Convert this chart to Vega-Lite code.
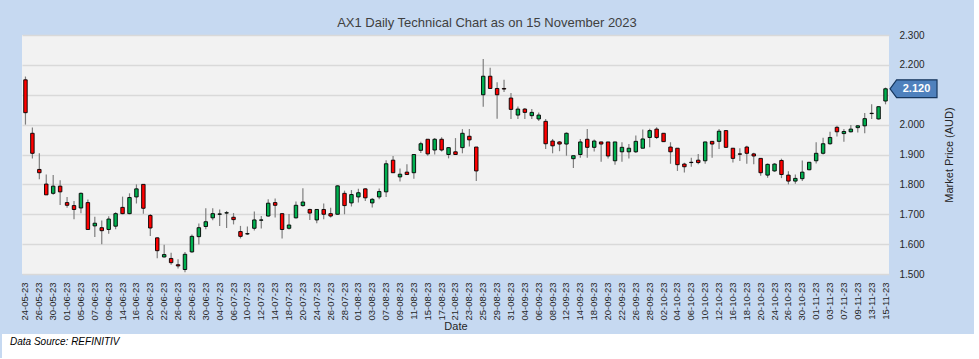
{
  "$schema": "https://vega.github.io/schema/vega-lite/v6.json",
  "padding": {"left": 2, "top": 17, "right": 0, "bottom": 0},
  "autosize": {"type": "pad"},
  "background": "#C6D9F1",
  "spacing": 2,
  "center": true,
  "datasets": {
    "ohlc": [
      {"d": "24-05-23", "o": 2.150, "h": 2.161, "l": 2.000, "c": 2.040},
      {"d": "25-05-23", "o": 1.971, "h": 1.990, "l": 1.887, "c": 1.904},
      {"d": "26-05-23", "o": 1.850, "h": 1.904, "l": 1.817, "c": 1.839},
      {"d": "29-05-23", "o": 1.801, "h": 1.833, "l": 1.765, "c": 1.765},
      {"d": "30-05-23", "o": 1.770, "h": 1.831, "l": 1.765, "c": 1.794},
      {"d": "31-05-23", "o": 1.794, "h": 1.814, "l": 1.731, "c": 1.775},
      {"d": "01-06-23", "o": 1.739, "h": 1.758, "l": 1.722, "c": 1.730},
      {"d": "02-06-23", "o": 1.729, "h": 1.744, "l": 1.683, "c": 1.716},
      {"d": "05-06-23", "o": 1.721, "h": 1.773, "l": 1.703, "c": 1.770},
      {"d": "06-06-23", "o": 1.739, "h": 1.749, "l": 1.649, "c": 1.649},
      {"d": "07-06-23", "o": 1.661, "h": 1.692, "l": 1.624, "c": 1.670},
      {"d": "08-06-23", "o": 1.655, "h": 1.679, "l": 1.600, "c": 1.645},
      {"d": "09-06-23", "o": 1.649, "h": 1.693, "l": 1.635, "c": 1.684},
      {"d": "13-06-23", "o": 1.660, "h": 1.707, "l": 1.650, "c": 1.702},
      {"d": "14-06-23", "o": 1.723, "h": 1.759, "l": 1.700, "c": 1.702},
      {"d": "15-06-23", "o": 1.702, "h": 1.770, "l": 1.700, "c": 1.756},
      {"d": "16-06-23", "o": 1.758, "h": 1.800, "l": 1.736, "c": 1.785},
      {"d": "19-06-23", "o": 1.800, "h": 1.800, "l": 1.702, "c": 1.720},
      {"d": "20-06-23", "o": 1.696, "h": 1.701, "l": 1.627, "c": 1.654},
      {"d": "21-06-23", "o": 1.621, "h": 1.623, "l": 1.553, "c": 1.578},
      {"d": "22-06-23", "o": 1.557, "h": 1.598, "l": 1.555, "c": 1.565},
      {"d": "23-06-23", "o": 1.552, "h": 1.571, "l": 1.531, "c": 1.538},
      {"d": "26-06-23", "o": 1.531, "h": 1.549, "l": 1.518, "c": 1.527},
      {"d": "27-06-23", "o": 1.515, "h": 1.574, "l": 1.506, "c": 1.566},
      {"d": "28-06-23", "o": 1.574, "h": 1.632, "l": 1.571, "c": 1.626},
      {"d": "29-06-23", "o": 1.625, "h": 1.669, "l": 1.599, "c": 1.655},
      {"d": "30-06-23", "o": 1.659, "h": 1.720, "l": 1.650, "c": 1.675},
      {"d": "03-07-23", "o": 1.688, "h": 1.720, "l": 1.680, "c": 1.702},
      {"d": "04-07-23", "o": 1.700, "h": 1.716, "l": 1.661, "c": 1.701},
      {"d": "05-07-23", "o": 1.704, "h": 1.711, "l": 1.654, "c": 1.705},
      {"d": "06-07-23", "o": 1.690, "h": 1.704, "l": 1.666, "c": 1.682},
      {"d": "07-07-23", "o": 1.642, "h": 1.661, "l": 1.619, "c": 1.626},
      {"d": "10-07-23", "o": 1.634, "h": 1.659, "l": 1.631, "c": 1.635},
      {"d": "11-07-23", "o": 1.653, "h": 1.709, "l": 1.646, "c": 1.681},
      {"d": "12-07-23", "o": 1.680, "h": 1.694, "l": 1.652, "c": 1.681},
      {"d": "13-07-23", "o": 1.694, "h": 1.750, "l": 1.692, "c": 1.737},
      {"d": "14-07-23", "o": 1.739, "h": 1.753, "l": 1.689, "c": 1.730},
      {"d": "17-07-23", "o": 1.702, "h": 1.702, "l": 1.619, "c": 1.649},
      {"d": "18-07-23", "o": 1.653, "h": 1.701, "l": 1.649, "c": 1.664},
      {"d": "19-07-23", "o": 1.688, "h": 1.743, "l": 1.686, "c": 1.730},
      {"d": "20-07-23", "o": 1.729, "h": 1.787, "l": 1.725, "c": 1.741},
      {"d": "21-07-23", "o": 1.716, "h": 1.718, "l": 1.681, "c": 1.704},
      {"d": "24-07-23", "o": 1.681, "h": 1.716, "l": 1.670, "c": 1.716},
      {"d": "25-07-23", "o": 1.716, "h": 1.736, "l": 1.683, "c": 1.700},
      {"d": "26-07-23", "o": 1.702, "h": 1.722, "l": 1.689, "c": 1.694},
      {"d": "27-07-23", "o": 1.700, "h": 1.797, "l": 1.698, "c": 1.795},
      {"d": "28-07-23", "o": 1.770, "h": 1.779, "l": 1.700, "c": 1.729},
      {"d": "31-07-23", "o": 1.738, "h": 1.781, "l": 1.726, "c": 1.766},
      {"d": "01-08-23", "o": 1.758, "h": 1.785, "l": 1.739, "c": 1.772},
      {"d": "02-08-23", "o": 1.785, "h": 1.787, "l": 1.744, "c": 1.755},
      {"d": "03-08-23", "o": 1.738, "h": 1.754, "l": 1.723, "c": 1.750},
      {"d": "04-08-23", "o": 1.758, "h": 1.786, "l": 1.750, "c": 1.776},
      {"d": "07-08-23", "o": 1.775, "h": 1.881, "l": 1.758, "c": 1.869},
      {"d": "08-08-23", "o": 1.881, "h": 1.895, "l": 1.838, "c": 1.839},
      {"d": "09-08-23", "o": 1.825, "h": 1.853, "l": 1.810, "c": 1.834},
      {"d": "10-08-23", "o": 1.841, "h": 1.867, "l": 1.832, "c": 1.833},
      {"d": "11-08-23", "o": 1.839, "h": 1.900, "l": 1.819, "c": 1.900},
      {"d": "14-08-23", "o": 1.914, "h": 1.943, "l": 1.905, "c": 1.936},
      {"d": "15-08-23", "o": 1.951, "h": 1.951, "l": 1.896, "c": 1.902},
      {"d": "16-08-23", "o": 1.915, "h": 1.955, "l": 1.900, "c": 1.951},
      {"d": "17-08-23", "o": 1.951, "h": 1.958, "l": 1.910, "c": 1.915},
      {"d": "18-08-23", "o": 1.900, "h": 1.925, "l": 1.887, "c": 1.923},
      {"d": "21-08-23", "o": 1.909, "h": 1.955, "l": 1.899, "c": 1.900},
      {"d": "22-08-23", "o": 1.923, "h": 1.985, "l": 1.904, "c": 1.971},
      {"d": "23-08-23", "o": 1.961, "h": 1.985, "l": 1.927, "c": 1.949},
      {"d": "24-08-23", "o": 1.925, "h": 1.925, "l": 1.811, "c": 1.845},
      {"d": "25-08-23", "o": 2.100, "h": 2.220, "l": 2.060, "c": 2.162},
      {"d": "28-08-23", "o": 2.162, "h": 2.190, "l": 2.120, "c": 2.121},
      {"d": "29-08-23", "o": 2.121, "h": 2.142, "l": 2.020, "c": 2.100},
      {"d": "30-08-23", "o": 2.121, "h": 2.150, "l": 2.109, "c": 2.119},
      {"d": "31-08-23", "o": 2.089, "h": 2.106, "l": 2.019, "c": 2.051},
      {"d": "01-09-23", "o": 2.032, "h": 2.061, "l": 2.019, "c": 2.052},
      {"d": "04-09-23", "o": 2.052, "h": 2.056, "l": 2.019, "c": 2.041},
      {"d": "05-09-23", "o": 2.030, "h": 2.052, "l": 2.019, "c": 2.041},
      {"d": "06-09-23", "o": 2.019, "h": 2.041, "l": 2.012, "c": 2.032},
      {"d": "07-09-23", "o": 2.011, "h": 2.019, "l": 1.918, "c": 1.936},
      {"d": "08-09-23", "o": 1.945, "h": 1.952, "l": 1.904, "c": 1.929},
      {"d": "11-09-23", "o": 1.942, "h": 1.945, "l": 1.911, "c": 1.935},
      {"d": "12-09-23", "o": 1.935, "h": 1.974, "l": 1.896, "c": 1.971},
      {"d": "13-09-23", "o": 1.886, "h": 1.897, "l": 1.855, "c": 1.896},
      {"d": "14-09-23", "o": 1.900, "h": 1.952, "l": 1.889, "c": 1.942},
      {"d": "15-09-23", "o": 1.951, "h": 1.985, "l": 1.889, "c": 1.924},
      {"d": "18-09-23", "o": 1.924, "h": 1.950, "l": 1.910, "c": 1.945},
      {"d": "19-09-23", "o": 1.942, "h": 1.943, "l": 1.876, "c": 1.935},
      {"d": "20-09-23", "o": 1.942, "h": 1.942, "l": 1.887, "c": 1.895},
      {"d": "21-09-23", "o": 1.879, "h": 1.942, "l": 1.866, "c": 1.942},
      {"d": "22-09-23", "o": 1.909, "h": 1.941, "l": 1.876, "c": 1.924},
      {"d": "25-09-23", "o": 1.909, "h": 1.935, "l": 1.887, "c": 1.921},
      {"d": "26-09-23", "o": 1.909, "h": 1.964, "l": 1.905, "c": 1.944},
      {"d": "27-09-23", "o": 1.921, "h": 1.984, "l": 1.921, "c": 1.952},
      {"d": "28-09-23", "o": 1.957, "h": 1.986, "l": 1.924, "c": 1.980},
      {"d": "29-09-23", "o": 1.985, "h": 1.991, "l": 1.952, "c": 1.957},
      {"d": "02-10-23", "o": 1.971, "h": 1.972, "l": 1.942, "c": 1.943},
      {"d": "03-10-23", "o": 1.925, "h": 1.941, "l": 1.869, "c": 1.909},
      {"d": "04-10-23", "o": 1.921, "h": 1.921, "l": 1.845, "c": 1.866},
      {"d": "05-10-23", "o": 1.868, "h": 1.872, "l": 1.840, "c": 1.859},
      {"d": "06-10-23", "o": 1.873, "h": 1.889, "l": 1.859, "c": 1.874},
      {"d": "09-10-23", "o": 1.881, "h": 1.902, "l": 1.867, "c": 1.873},
      {"d": "10-10-23", "o": 1.879, "h": 1.943, "l": 1.869, "c": 1.942},
      {"d": "11-10-23", "o": 1.944, "h": 1.944, "l": 1.889, "c": 1.935},
      {"d": "12-10-23", "o": 1.944, "h": 1.985, "l": 1.918, "c": 1.978},
      {"d": "13-10-23", "o": 1.980, "h": 1.981, "l": 1.923, "c": 1.924},
      {"d": "16-10-23", "o": 1.921, "h": 1.922, "l": 1.873, "c": 1.887},
      {"d": "17-10-23", "o": 1.902, "h": 1.921, "l": 1.878, "c": 1.901},
      {"d": "18-10-23", "o": 1.925, "h": 1.929, "l": 1.869, "c": 1.904},
      {"d": "19-10-23", "o": 1.902, "h": 1.906, "l": 1.867, "c": 1.895},
      {"d": "20-10-23", "o": 1.887, "h": 1.887, "l": 1.829, "c": 1.839},
      {"d": "23-10-23", "o": 1.831, "h": 1.870, "l": 1.822, "c": 1.867},
      {"d": "24-10-23", "o": 1.845, "h": 1.871, "l": 1.842, "c": 1.868},
      {"d": "25-10-23", "o": 1.880, "h": 1.886, "l": 1.821, "c": 1.833},
      {"d": "26-10-23", "o": 1.831, "h": 1.844, "l": 1.800, "c": 1.811},
      {"d": "27-10-23", "o": 1.811, "h": 1.833, "l": 1.802, "c": 1.820},
      {"d": "30-10-23", "o": 1.819, "h": 1.880, "l": 1.811, "c": 1.841},
      {"d": "31-10-23", "o": 1.849, "h": 1.875, "l": 1.847, "c": 1.874},
      {"d": "01-11-23", "o": 1.879, "h": 1.941, "l": 1.870, "c": 1.904},
      {"d": "02-11-23", "o": 1.904, "h": 1.956, "l": 1.900, "c": 1.936},
      {"d": "03-11-23", "o": 1.936, "h": 1.976, "l": 1.933, "c": 1.957},
      {"d": "06-11-23", "o": 1.991, "h": 1.996, "l": 1.960, "c": 1.976},
      {"d": "07-11-23", "o": 1.970, "h": 1.985, "l": 1.943, "c": 1.977},
      {"d": "08-11-23", "o": 1.976, "h": 1.999, "l": 1.974, "c": 1.985},
      {"d": "09-11-23", "o": 1.990, "h": 1.999, "l": 1.974, "c": 1.996},
      {"d": "10-11-23", "o": 1.996, "h": 2.039, "l": 1.971, "c": 2.020},
      {"d": "13-11-23", "o": 2.037, "h": 2.068, "l": 2.019, "c": 2.038},
      {"d": "14-11-23", "o": 2.019, "h": 2.061, "l": 2.017, "c": 2.060},
      {"d": "15-11-23", "o": 2.079, "h": 2.124, "l": 2.068, "c": 2.120}
    ],
    "source": [{"t": "Data Source: REFINITIV"}]
  },
  "vconcat": [
    {
      "title": {"text": "AX1 Daily Technical Chart as on 15 November 2023", "anchor": "middle", "frame": "bounds", "fontSize": 13, "fontWeight": "normal", "color": "#404040", "offset": 0, "font": "Liberation Sans"},
      "width": 867,
      "height": 239,
      "data": {"name": "ohlc"},
      "encoding": {
        "x": {
          "field": "d", "type": "ordinal", "sort": null,
          "scale": {"type": "band", "paddingInner": 0, "paddingOuter": 0},
          "axis": {
            "title": "Date",
            "values": ["24-05-23","26-05-23","30-05-23","01-06-23","05-06-23","07-06-23","09-06-23","14-06-23","16-06-23","20-06-23","22-06-23","26-06-23","28-06-23","30-06-23","04-07-23","06-07-23","10-07-23","12-07-23","14-07-23","18-07-23","20-07-23","24-07-23","26-07-23","28-07-23","01-08-23","03-08-23","07-08-23","09-08-23","11-08-23","15-08-23","17-08-23","21-08-23","23-08-23","25-08-23","29-08-23","31-08-23","04-09-23","06-09-23","08-09-23","12-09-23","14-09-23","18-09-23","20-09-23","22-09-23","26-09-23","28-09-23","02-10-23","04-10-23","06-10-23","10-10-23","12-10-23","16-10-23","18-10-23","20-10-23","24-10-23","26-10-23","30-10-23","01-11-23","03-11-23","07-11-23","09-11-23","13-11-23","15-11-23"],
            "labelAngle": -90, "labelFontSize": 9.5, "labelPadding": 8, "labelColor": "#262626",
            "ticks": false, "domain": false, "grid": false, "labelOverlap": false,
            "titleFontSize": 11, "titleFontWeight": "normal", "titleColor": "#262626", "titlePadding": 0,
            "labelFont": "Liberation Sans", "titleFont": "Liberation Sans"
          }
        },
        "y": {
          "field": "l", "type": "quantitative",
          "scale": {"domain": [1.5, 2.3], "nice": false, "zero": false},
          "axis": {
            "orient": "right", "title": "Market Price (AUD)",
            "tickCount": 8,
            "labelExpr": "abs(datum.value - 2.1) < 0.001 ? '' : format(datum.value, '.3f')",
            "labelOverlap": false, "labelBound": false, "labelSeparation": 0,
            "labelFontSize": 10, "labelPadding": 10, "labelColor": "#262626",
            "ticks": false, "domain": false, "grid": true, "gridColor": "#D9D9D9", "gridWidth": 1.5,
            "titleAngle": 270, "titlePadding": 30, "titleFontSize": 11, "titleFontWeight": "normal", "titleColor": "#262626",
            "labelFont": "Liberation Sans", "titleFont": "Liberation Sans"
          }
        }
      },
      "layer": [
        {
          "mark": {"type": "rule", "color": "#7F7F7F", "strokeWidth": 1.2},
          "encoding": {"y2": {"field": "h"}}
        },
        {
          "mark": {"type": "bar", "width": {"band": 0.5}, "stroke": "#000000", "strokeWidth": 0.9},
          "encoding": {
            "y": {"field": "o", "type": "quantitative"},
            "y2": {"field": "c"},
            "fill": {"condition": {"test": "datum.c >= datum.o", "value": "#00B050"}, "value": "#FF0000"}
          }
        },
        {
          "transform": [{"filter": "datum.d == '15-11-23'"}],
          "mark": {"type": "point", "shape": "M-1,0L-0.72,-0.38L1,-0.38L1,0.38L-0.72,0.38Z", "size": 2209, "filled": true, "fill": "#4F81BD", "stroke": "#17375E", "strokeWidth": 1.2, "opacity": 1, "xOffset": 28},
          "encoding": {"y": {"field": "c", "type": "quantitative"}}
        },
        {
          "transform": [{"filter": "datum.d == '15-11-23'"}],
          "mark": {"type": "text", "color": "#FFFFFF", "fontWeight": "bold", "fontSize": 11, "align": "center", "baseline": "middle", "xOffset": 31, "font": "Liberation Sans"},
          "encoding": {"y": {"field": "c", "type": "quantitative"}, "text": {"field": "c", "type": "quantitative", "format": ".3f"}}
        }
      ]
    },
    {
      "width": 972,
      "height": 24,
      "view": {"fill": "#FFFFFF", "stroke": null},
      "data": {"name": "source"},
      "mark": {"type": "text", "align": "left", "baseline": "middle", "fontStyle": "italic", "fontSize": 10, "color": "#000000", "dx": 8, "dy": -4, "font": "Liberation Sans"},
      "encoding": {
        "x": {"field": "t", "type": "nominal", "axis": null, "scale": {"type": "point", "align": 0, "padding": 0}},
        "text": {"field": "t"}
      }
    }
  ],
  "config": {
    "view": {"stroke": null, "fill": "#F2F2F2"},
    "axisY": {"labelOverlap": false},
    "font": "Liberation Sans"
  }
}
